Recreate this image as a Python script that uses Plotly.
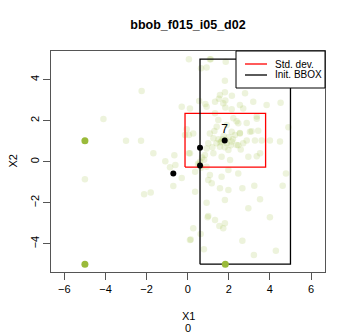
import plotly.graph_objects as go

# Sampled points (faint cloud)
faint_x = [-2.24, -4.1, -3.0, -2.27, -5.0, -2.12, -1.8, -1.67, -1.09, -0.65, -0.86, -0.6,
           -0.29, 0.06, -0.05, 0.06, 0.06, -0.29, -0.7, 0.11, 0.65, 0.92, 1.12, 1.85,
           1.81, 1.81, 2.15, 1.52, 1.83, 0.86, 0.56, 1.83, 2.14, 4.52, 4.9, 2.38,
           2.87, 3.36, 3.11, 3.43, 2.54, 2.87, 3.27, 3.6, 4.0, 4.49, 2.46, 2.58,
           3.36, 2.14, 0.27, 0.11, 1.33, 1.41, 1.08, 1.25, 2.14, 2.46, 2.54, 2.38,
           1.98, 1.57, 0.92, 0.84, 1.25, 1.65, 2.06, 3.03, 3.36, 2.7, 1.73, 0.6,
           0.92, 0.36, 1.08, 2.95, 3.52, -0.13, 2.22, 1.49, 1.9, 2.7, 0.36, 1.0,
           1.17, 1.65, 1.98, 1.57, 1.98, 0.92, 1.81, 1.0, 2.46, 4.78, 3.24, 4.62,
           2.66, 3.52, 2.95, 4.0, 1.33, 1.81, 1.54, 1.73, 0.27, 0.63, 0.15, 2.66,
           0.79, 3.22, 4.29, 0.97, 1.08, 1.57, 2.79, 1.33, 2.54, 3.19, 3.84, 0.92,
           0.11, 1.7, 1.9, 1.6, 2.0, 1.75, 1.5, 2.1, 1.8, 1.4, 2.2, 1.0,
           0.7, 0.5, 0.65, 0.8, 1.2, 1.3, 2.3, 1.85, 1.65, 0.55, 0.62]
faint_y = [3.45, 2.08, 1.02, 1.02, -0.86, -1.59, -1.5, 0.41, 0.02, 0.31, -0.27, -0.16,
           2.68, 5.0, 1.58, 1.3, 0.41, -0.8, -1.19, -3.82, 4.56, 4.59, 5.0, 4.88,
           3.95, 3.39, 3.22, 3.07, 2.98, 2.81, 2.96, 2.65, 2.56, 2.88, 1.68, 1.97,
           1.89, 2.1, 1.48, 1.51, 1.4, 1.04, 1.04, 1.04, 1.04, 0.99, 0.8, 0.59,
           0.26, 0.99, 1.38, 0.41, 2.36, 1.71, 1.38, 1.14, 1.46, 1.87, 1.38, 0.81,
           0.57, 0.73, 0.65, 0.33, 0.41, 0.24, 0.08, 1.46, 2.2, 2.6, 2.85, 0.0,
           -0.24, -0.49, -0.65, 0.24, 0.41, 1.3, 2.12, 2.03, 1.79, 0.9, -1.46, -0.89,
           -1.05, -0.73, -0.4, -1.3, -1.38, -2.0, -1.87, -2.65, -0.57, -0.57, -1.17, -1.17,
           -1.3, -1.83, -2.27, -2.71, -2.84, -3.0, -3.14, -3.25, -3.25, -3.53, -3.8, -3.85,
           -4.27, -4.55, -4.34, -2.71, 5.0, 3.25, 3.34, 2.93, 2.77, 2.93, 2.77, 2.68,
           2.6, 1.1, 0.9, 0.95, 1.2, 1.25, 1.1, 0.8, 0.7, 0.9, 1.1, 0.9,
           0.2, -0.1, -0.3, 0.1, 0.7, 1.5, 1.3, 1.05, 1.0, -0.15, -0.2]

# Highlighted points
green_x = [-5.0, -5.0, 1.83]
green_y = [1.02, -5.0, -5.0]
black_x = [1.8, 0.6, 0.6, -0.7]
black_y = [1.03, 0.68, -0.18, -0.57]
black_labels = ["7", "", "", ""]

# Rectangles (x range, y range)
std_x = [-0.13, 3.79]
std_y = [-0.26, 2.36]
bbox_x = [0.6, 5.0]
bbox_y = [-5.0, 5.0]

legend_names = ["Std. dev.", "Init. BBOX"]
legend_colors = ["#ff0000", "#000000"]

x_ticks = [-6, -4, -2, 0, 2, 4, 6]
y_ticks = [-4, -2, 0, 2, 4]

FONT = "Liberation Sans, Arial, sans-serif"
# the page body keeps its default 8px margin, so the figure is drawn 8px smaller
W, H, OFF = 351 - 8, 336 - 8, 8
L, R, T, B = 51 - OFF, 26, 51 - OFF, 64
PW, PH = W - L - R, H - T - B


def rect_path(xr, yr):
    return ([xr[0], xr[1], xr[1], xr[0], xr[0]],
            [yr[0], yr[0], yr[1], yr[1], yr[0]])


def px(x):
    # page pixel x -> paper fraction
    return (x - OFF - L) / PW


def py(y):
    # page pixel y -> paper fraction
    return (H - B - (y - OFF)) / PH


fig = go.Figure()

fig.add_trace(go.Scatter(
    x=faint_x, y=faint_y, mode="markers",
    marker=dict(size=6.5, color="rgba(154,190,60,0.18)", line=dict(width=0)),
    showlegend=False, hoverinfo="skip",
))

sx, sy = rect_path(std_x, std_y)
fig.add_trace(go.Scatter(x=sx, y=sy, mode="lines", name=legend_names[0], showlegend=False,
                         line=dict(color=legend_colors[0], width=1.3)))
bx, by = rect_path(bbox_x, bbox_y)
fig.add_trace(go.Scatter(x=bx, y=by, mode="lines", name=legend_names[1], showlegend=False,
                         line=dict(color=legend_colors[1], width=1.3)))

fig.add_trace(go.Scatter(
    x=green_x, y=green_y, mode="markers",
    marker=dict(size=7, color="#9aba3a"), showlegend=False,
))
fig.add_trace(go.Scatter(
    x=black_x, y=black_y, mode="markers+text", text=black_labels,
    textposition="top center", textfont=dict(family=FONT, size=12, color="#000"),
    marker=dict(size=6, color="#000000"), showlegend=False,
))

# R-style legend box in the top right corner
shapes = [dict(type="rect", xref="paper", yref="paper", x0=px(236), x1=px(325),
               y0=py(88), y1=py(51), line=dict(color="#000", width=1),
               fillcolor="white", layer="above")]
annotations = []
for i, (name, color) in enumerate(zip(legend_names, legend_colors)):
    yy = 64 + 11 * i
    shapes.append(dict(type="line", xref="paper", yref="paper", x0=px(245), x1=px(267),
                       y0=py(yy), y1=py(yy), line=dict(color=color, width=1.3),
                       layer="above"))
    annotations.append(dict(text=name, x=px(273), y=py(yy), xref="paper", yref="paper",
                            xanchor="left", yanchor="middle", showarrow=False,
                            font=dict(family=FONT, size=10)))

annotations += [
    dict(text="X1", x=0.5, y=0, xref="paper", yref="paper", showarrow=False,
         yanchor="middle", yshift=-(316 - 272), font=dict(family=FONT, size=11)),
    dict(text="0", x=0.5, y=0, xref="paper", yref="paper", showarrow=False,
         yanchor="middle", yshift=-(328 - 272), font=dict(family=FONT, size=11)),
    dict(text="X2", x=0, y=0.5, xref="paper", yref="paper", showarrow=False,
         xanchor="center", xshift=-(51 - 12), textangle=-90,
         font=dict(family=FONT, size=11)),
]

axis_common = dict(
    showgrid=False, zeroline=False, showline=True, mirror=True,
    linecolor="#555555", linewidth=1, ticks="outside", ticklen=7,
    tickcolor="#555555", tickfont=dict(family=FONT, size=11, color="#000"),
)

fig.update_layout(
    width=W, height=H,
    margin=dict(l=L, r=R, t=T, b=B, autoexpand=False),
    paper_bgcolor="white", plot_bgcolor="white",
    font=dict(family=FONT, size=11, color="#000"),
    title=dict(text="<b>bbob_f015_i05_d02</b>", x=(188 - OFF) / W, xanchor="center",
               y=1 - (25 - OFF) / H, yanchor="middle", font=dict(family=FONT, size=12.5)),
    xaxis=dict(range=[-6.65, 6.68], tickvals=x_ticks, **axis_common),
    yaxis=dict(range=[-5.38, 5.4], tickvals=y_ticks, tickangle=-90, **axis_common),
    showlegend=False,
    shapes=shapes,
    annotations=annotations,
)

fig.write_html("out.html")
